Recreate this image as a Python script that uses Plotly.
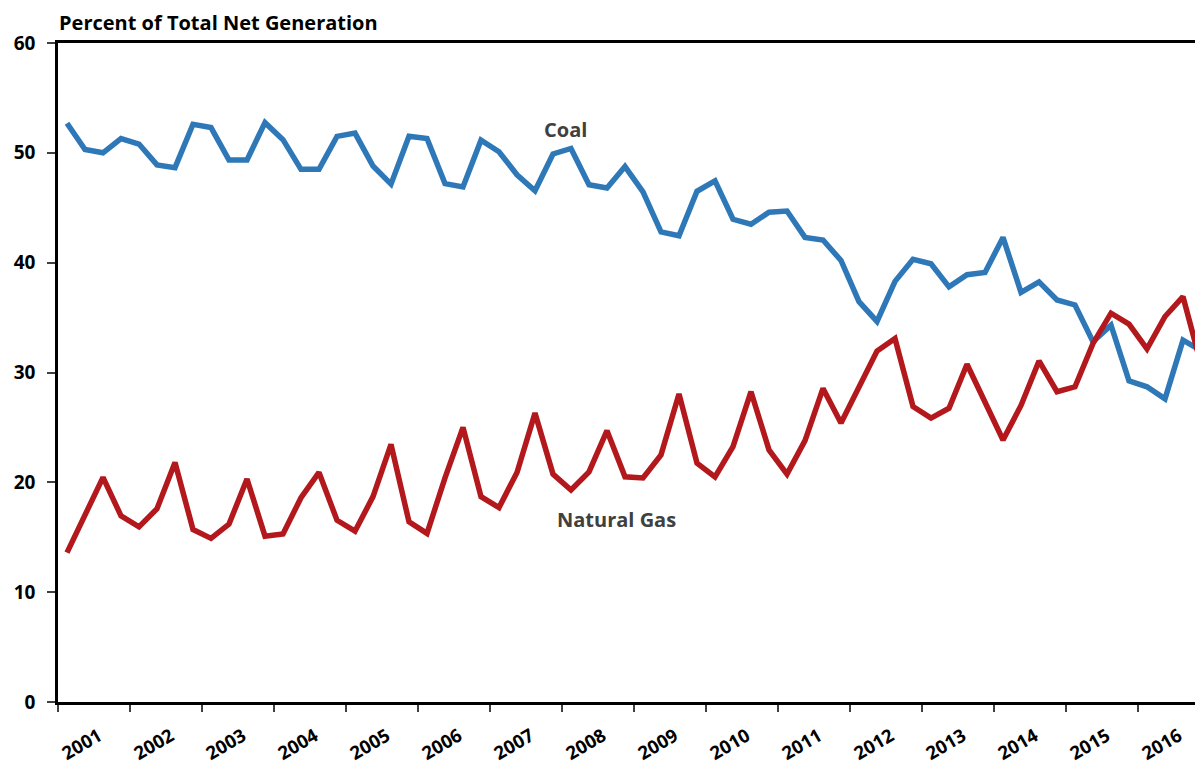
import plotly.graph_objects as go

years = [str(y) for y in range(2001, 2017)]

coal = [52.7, 50.3, 50.0, 51.3, 50.8, 48.9, 48.65, 52.6,
        52.3, 49.35, 49.35, 52.75, 51.2, 48.5, 48.5, 51.5,
        51.8, 48.8, 47.15, 51.5, 51.3, 47.2, 46.9, 51.15,
        50.1, 48.0, 46.55, 49.9, 50.4, 47.1, 46.8, 48.75,
        46.45, 42.8, 42.45, 46.5, 47.45, 43.95, 43.5, 44.6,
        44.7, 42.3, 42.06, 40.2, 36.45, 34.65, 38.3, 40.3,
        39.9, 37.8, 38.9, 39.1, 42.3, 37.3, 38.25, 36.6,
        36.15, 32.8, 34.3, 29.25, 28.7, 27.6, 32.95, 32.0]

gas = [13.6, 17.0, 20.45, 16.95, 15.95, 17.6, 21.8, 15.7,
       14.9, 16.2, 20.3, 15.1, 15.3, 18.6, 20.9, 16.55,
       15.55, 18.7, 23.45, 16.4, 15.35, 20.4, 25.0, 18.7,
       17.7, 20.9, 26.3, 20.75, 19.3, 20.95, 24.7, 20.5,
       20.4, 22.5, 28.05, 21.75, 20.5, 23.25, 28.25, 22.95,
       20.75, 23.8, 28.55, 25.4, 28.7, 31.95, 33.1, 26.9,
       25.85, 26.75, 30.75, 27.4, 23.85, 27.0, 31.05, 28.25,
       28.7, 32.65, 35.4, 34.4, 32.15, 35.1, 36.9, 30.75]

quarters_per_year = 4
x = list(range(len(coal)))

FONT = "Open Sans"
fig = go.Figure()
fig.add_trace(go.Scatter(x=x, y=coal, mode="lines", name="Coal",
                         line=dict(color="#2e78b8", width=5.5), showlegend=False))
fig.add_trace(go.Scatter(x=x, y=gas, mode="lines", name="Natural Gas",
                         line=dict(color="#b2181c", width=5.5), showlegend=False))

tick_pos = [i * quarters_per_year - 0.5 for i in range(len(years) + 1)]

# page body adds an 8px margin, so the figure is laid out 8px up/left of the reference
W, H = 1195, 759
L, T, B = 50, 35, 65
px_per_q = 18.0
x_right = -0.5 + (W - L) / px_per_q

fig.update_layout(
    width=W, height=H,
    margin=dict(l=L, r=0, t=T, b=B),
    plot_bgcolor="white", paper_bgcolor="white",
    font=dict(family=FONT, color="black"),
    xaxis=dict(range=[-0.5, x_right], tickvals=tick_pos, showticklabels=False,
               ticks="outside", ticklen=7, tickwidth=1.5, tickcolor="#404040",
               showline=True, linecolor="black", linewidth=2.5, mirror=True,
               showgrid=False, zeroline=False),
    yaxis=dict(range=[0, 60], tickvals=[0, 10, 20, 30, 40, 50, 60],
               ticks="outside", ticklen=8, tickwidth=1.5, tickcolor="#404040",
               showline=True, linecolor="black", linewidth=2.5,
               showgrid=False, zeroline=False, ticklabelstandoff=8,
               tickfont=dict(family=FONT, size=19, weight="bold", color="black")),
)

ph = H - T - B  # plot height in px
annotations = [
    dict(text="Percent of Total Net Generation", xref="paper", yref="paper",
         x=0, y=1 + 21 / ph, xanchor="left", yanchor="middle", showarrow=False,
         borderpad=0,
         font=dict(family=FONT, size=20, weight="bold", color="black")),
    dict(text="Coal", xref="x", yref="y", x=(565 - 58) / 18 - 0.5, y=(702 - 130) / 10.983,
         showarrow=False, font=dict(family=FONT, size=20, weight="bold", color="#404040")),
    dict(text="Natural Gas", xref="x", yref="y", x=(616 - 58) / 18 - 0.5, y=(702 - 520) / 10.983,
         showarrow=False, font=dict(family=FONT, size=20, weight="bold", color="#404040")),
]
for k, yr in enumerate(years):
    annotations.append(dict(text=yr, xref="x", yref="paper",
                            x=k * quarters_per_year + 0.78, y=-41 / ph,
                            xanchor="center", yanchor="middle", textangle=-30,
                            showarrow=False,
                            font=dict(family=FONT, size=18.5, weight="bold", color="black")))
fig.update_layout(annotations=annotations)

fig.write_html("out.html")
